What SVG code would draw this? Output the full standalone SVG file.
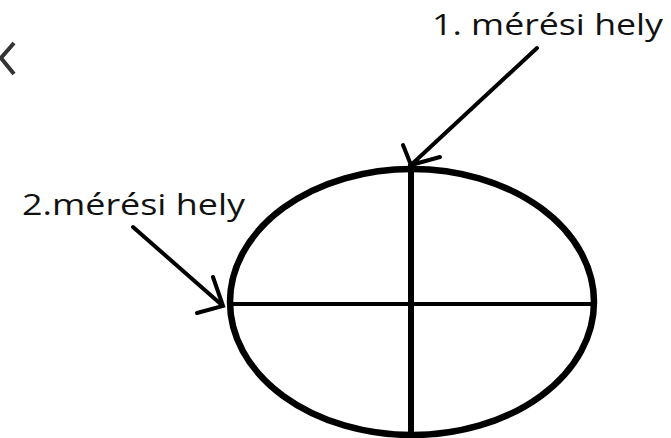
<svg xmlns="http://www.w3.org/2000/svg" width="671" height="438" viewBox="0 0 671 438">
<style>
.lbl{font-family:"Open Sans","Noto Sans","Liberation Sans",sans-serif;font-size:30px;fill:#111}
.ln{stroke:#000;fill:none;stroke-linecap:round}
</style>
<rect width="671" height="438" fill="#fff"/>
<path d="M14,43 L1,58 L14,74" stroke="#333" stroke-width="4" fill="none"/>
<g id="section">
<ellipse cx="412" cy="302" rx="182" ry="133" fill="none" stroke="#000" stroke-width="6.5"/>
<line x1="230" y1="304" x2="593" y2="304" stroke="#000" stroke-width="4"/>
<line x1="411" y1="164" x2="411" y2="438" stroke="#000" stroke-width="6"/>
</g>
<g id="label1">
<text class="lbl" x="432" y="35" textLength="231" lengthAdjust="spacingAndGlyphs">1. mérési hely</text>
</g>
<g id="label2">
<text class="lbl" x="22" y="215" textLength="223" lengthAdjust="spacingAndGlyphs">2.mérési hely</text>
</g>
<g id="connectors">
<path class="ln" stroke-width="4" d="M537,48 L411,165 M403,145 L411,165 L440,157"/>
<path class="ln" stroke-width="4" d="M133,227 L223,306 M213,277 L223,306 L197,313"/>
</g>
</svg>
